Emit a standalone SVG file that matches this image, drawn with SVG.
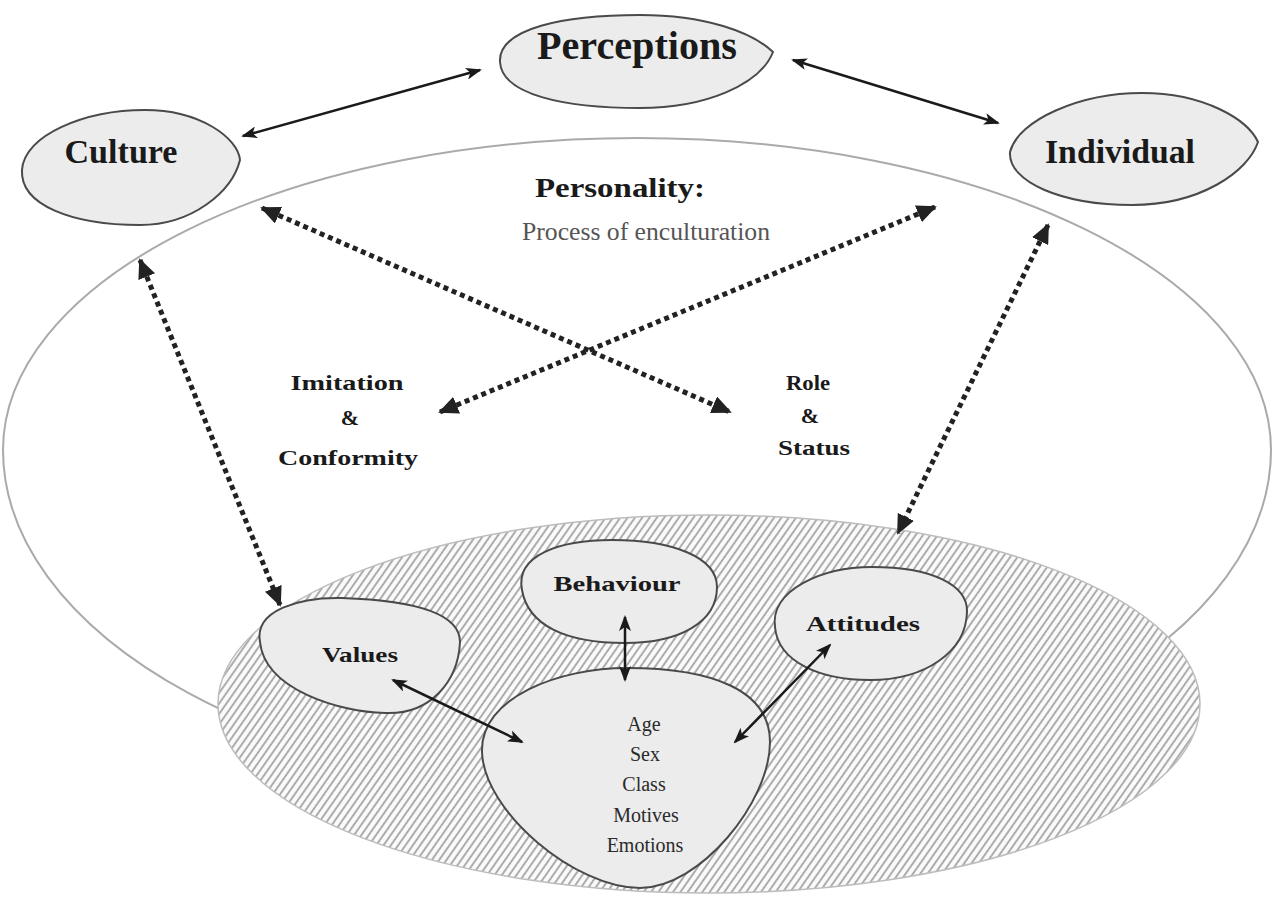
<svg xmlns="http://www.w3.org/2000/svg" width="1277" height="900" viewBox="0 0 1277 900">
<style>
.blob{fill:#ececec;stroke:#4a4a4a;stroke-width:2}
.lbl{font-family:"Liberation Serif",serif;font-weight:bold;fill:#1a1a1a;text-anchor:middle}
.reg{font-family:"Liberation Serif",serif;fill:#2a2a2a;text-anchor:middle}
.solid{stroke:#1a1a1a;stroke-width:2.5;fill:none}
.dot{stroke:#222;stroke-width:5;stroke-dasharray:5 4;fill:none}
</style>
<defs>
<pattern id="hatch" width="6" height="6" patternUnits="userSpaceOnUse" patternTransform="rotate(35)">
<rect width="6" height="6" fill="#fafafa"/>
<line x1="1" y1="0" x2="1" y2="6" stroke="#9a9a9a" stroke-width="1.6"/>
</pattern>
<marker id="ah" viewBox="0 0 16 12" markerUnits="userSpaceOnUse" markerWidth="16" markerHeight="12" refX="14" refY="6" orient="auto-start-reverse">
<path d="M0,0 L16,6 L0,12 L4,6 z" fill="#1a1a1a"/>
</marker>
<marker id="dh" viewBox="0 0 20 18" markerUnits="userSpaceOnUse" markerWidth="20" markerHeight="18" refX="18" refY="9" orient="auto-start-reverse">
<path d="M0,0 L20,9 L0,18 z" fill="#222"/>
</marker>
</defs>
<rect width="1277" height="900" fill="#ffffff"/>

<g id="personality">
<path d="M 3,450 A 634,312 0 0 1 1271,450 A 634,344 0 0 1 3,450 Z" fill="none" stroke="#aaaaaa" stroke-width="2"/>
<text class="lbl" x="620" y="197" font-size="28" textLength="170" lengthAdjust="spacingAndGlyphs">Personality:</text>
<text class="reg" x="646" y="240" font-size="26" fill="#555" style="fill:#555" textLength="248" lengthAdjust="spacingAndGlyphs">Process of enculturation</text>
</g>

<g id="core">
<ellipse cx="709" cy="704" rx="491" ry="189" fill="url(#hatch)" stroke="#bdbdbd" stroke-width="1.5"/>
</g>

<g id="perceptions">
<path class="blob" d="M 500,62 C 498,28 565,15 640,15 C 705,15 752,32 773,52 C 760,85 705,108 640,108 C 565,108 502,95 500,62 Z"/>
<text class="lbl" x="637" y="59" font-size="40" textLength="200" lengthAdjust="spacingAndGlyphs">Perceptions</text>
</g>

<g id="culture">
<path class="blob" d="M 22,170 C 24,135 85,110 145,110 C 200,110 238,138 240,160 C 232,192 192,225 140,225 C 72,225 20,205 22,170 Z"/>
<text class="lbl" x="121" y="163" font-size="34" textLength="113" lengthAdjust="spacingAndGlyphs">Culture</text>
</g>

<g id="individual">
<path class="blob" d="M 1010,152 C 1018,120 1080,93 1142,93 C 1205,93 1248,120 1258,142 C 1248,172 1200,205 1132,205 C 1062,205 1008,182 1010,152 Z"/>
<text class="lbl" x="1120" y="163" font-size="34" textLength="150" lengthAdjust="spacingAndGlyphs">Individual</text>
</g>

<g id="imitation">
<text class="lbl" x="347" y="390" font-size="22" textLength="113" lengthAdjust="spacingAndGlyphs">Imitation</text>
<text class="lbl" x="350" y="425" font-size="22">&amp;</text>
<text class="lbl" x="348" y="465" font-size="22" textLength="140" lengthAdjust="spacingAndGlyphs">Conformity</text>
</g>

<g id="role">
<text class="lbl" x="808" y="390" font-size="22" textLength="44" lengthAdjust="spacingAndGlyphs">Role</text>
<text class="lbl" x="810" y="423" font-size="22">&amp;</text>
<text class="lbl" x="814" y="455" font-size="22" textLength="72" lengthAdjust="spacingAndGlyphs">Status</text>
</g>

<g id="values">
<path class="blob" d="M 260,642 C 254,610 300,597 342,598 C 402,600 460,610 460,642 C 458,682 430,715 385,713 C 340,712 265,690 260,642 Z"/>
<text class="lbl" x="360" y="662" font-size="22" textLength="76" lengthAdjust="spacingAndGlyphs">Values</text>
</g>

<g id="behaviour">
<path class="blob" d="M 522,590 C 515,555 560,540 612,540 C 672,540 717,557 717,587 C 717,622 680,643 625,643 C 565,643 528,625 522,590 Z"/>
<text class="lbl" x="617" y="591" font-size="22" textLength="127" lengthAdjust="spacingAndGlyphs">Behaviour</text>
</g>

<g id="attitudes">
<path class="blob" d="M 775,627 C 770,590 822,567 872,567 C 932,567 968,585 967,612 C 966,652 925,680 870,680 C 820,680 778,662 775,627 Z"/>
<text class="lbl" x="863" y="631" font-size="22" textLength="114" lengthAdjust="spacingAndGlyphs">Attitudes</text>
</g>

<g id="demographics">
<path class="blob" d="M 482,752 C 480,697 560,668 627,668 C 712,668 770,690 770,742 C 770,802 700,888 640,888 C 575,888 484,812 482,752 Z"/>
<text class="reg" x="644" y="731" font-size="20">Age</text>
<text class="reg" x="645" y="761" font-size="20">Sex</text>
<text class="reg" x="644" y="791" font-size="20">Class</text>
<text class="reg" x="646" y="822" font-size="20">Motives</text>
<text class="reg" x="645" y="852" font-size="20">Emotions</text>
</g>

<g id="connectors">
<line class="solid" x1="243" y1="136" x2="480" y2="70" marker-start="url(#ah)" marker-end="url(#ah)"/>
<line class="solid" x1="793" y1="60" x2="998" y2="123" marker-start="url(#ah)" marker-end="url(#ah)"/>
<line class="solid" x1="393" y1="680" x2="522" y2="742" marker-start="url(#ah)" marker-end="url(#ah)"/>
<line class="solid" x1="625" y1="617" x2="625" y2="680" marker-start="url(#ah)" marker-end="url(#ah)"/>
<line class="solid" x1="830" y1="645" x2="735" y2="742" stroke-width="2" marker-start="url(#ah)" marker-end="url(#ah)"/>
<line class="dot" x1="262" y1="208" x2="730" y2="412" marker-start="url(#dh)" marker-end="url(#dh)"/>
<line class="dot" x1="935" y1="207" x2="440" y2="412" marker-start="url(#dh)" marker-end="url(#dh)"/>
<line class="dot" x1="140" y1="260" x2="280" y2="605" marker-start="url(#dh)" marker-end="url(#dh)"/>
<line class="dot" x1="1048" y1="225" x2="898" y2="533" marker-start="url(#dh)" marker-end="url(#dh)"/>
</g>
</svg>
